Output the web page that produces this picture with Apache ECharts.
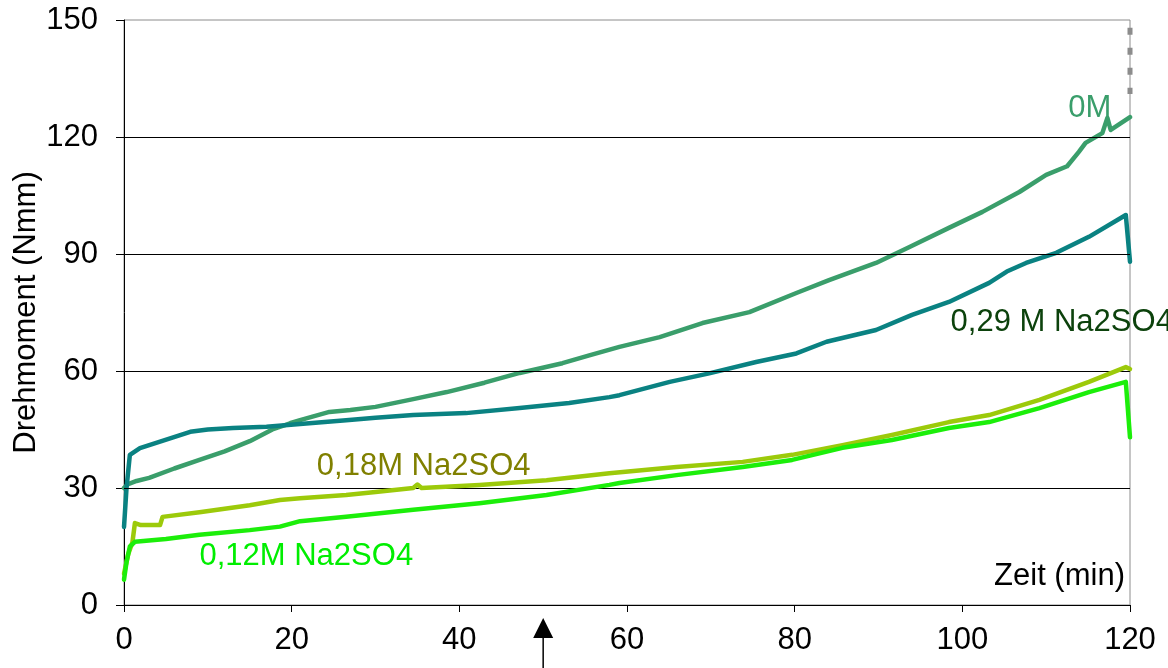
<!DOCTYPE html>
<html>
<head>
<meta charset="utf-8">
<title>Drehmoment</title>
<script src="https://cdn.jsdelivr.net/npm/echarts@6/dist/echarts.min.js"></script>
<style>
  html, body { margin: 0; padding: 0; background: #fff; }
  #chart { width: 1168px; height: 668px; }
</style>
</head>
<body>
<div id="chart"></div>
<script>
// Torque over time for different Na2SO4 concentrations
const xTicks = [0, 20, 40, 60, 80, 100, 120];
const yTicks = [0, 30, 60, 90, 120, 150];
const gridValues = [30, 60, 90, 120];

const t0M = [0, 0.5, 1.5, 3, 6, 9, 12, 15, 17.7, 19.8, 21, 24.5, 27, 30, 34.5, 38.5, 43, 47.2, 52.3, 55.5, 59.1, 63.9, 69, 74.6, 80.2, 84.1, 89.7, 93.7, 98.4, 102.4, 106.8, 110, 112.5, 113.9, 114.7, 116.7, 117.3, 117.7, 120];
const v0M = [30, 31, 31.8, 32.6, 35, 37.2, 39.4, 42, 45, 46.6, 47.4, 49.5, 50, 50.8, 52.8, 54.6, 57, 59.5, 62, 64, 66.2, 68.7, 72.3, 75.1, 80, 83.3, 87.7, 91.8, 96.7, 100.8, 105.9, 110.3, 112.5, 116.2, 118.5, 121, 124.9, 121.8, 125.1];

const t029 = [0, 0.3, 0.7, 1.9, 4.3, 7.9, 10, 13, 17, 21, 26.5, 30, 34.5, 40.8, 47.2, 53.1, 57.9, 59.1, 65.1, 69.8, 75.4, 80.2, 83.8, 89.7, 94, 98.4, 103.2, 105.3, 107.6, 111.2, 115.1, 119.5, 120];
const v029 = [20, 30, 38.5, 40.2, 41.9, 44.4, 45, 45.4, 45.7, 46.4, 47.4, 48, 48.7, 49.2, 50.5, 51.8, 53.3, 53.8, 57.2, 59.4, 62.3, 64.5, 67.5, 70.5, 74.4, 77.7, 82.6, 85.5, 87.7, 90.3, 94.4, 100, 88];

const t018 = [0, 0.5, 1, 1.3, 2, 4.3, 4.6, 9, 15, 18.6, 21, 26.5, 30, 34.5, 35, 35.5, 42.4, 50.4, 57.9, 65.9, 73.8, 79.7, 85.7, 91.6, 98.4, 103.2, 109.2, 115.1, 119.5, 120];
const v018 = [8, 13, 16, 21, 20.5, 20.5, 22.6, 23.8, 25.6, 26.9, 27.4, 28.2, 29, 30, 30.9, 30, 30.8, 32, 33.8, 35.4, 36.7, 38.5, 41, 43.6, 46.9, 48.7, 52.6, 57.2, 61, 60.5];

const t012 = [0, 0.3, 0.7, 1.3, 5, 9, 15, 18.6, 21, 26.5, 34.5, 42.4, 50.4, 57.9, 59.1, 65.9, 73.8, 79.7, 85.7, 91.6, 98.4, 103.2, 109.2, 115.1, 119.5, 120];
const v012 = [6.5, 11, 15, 16.2, 16.9, 18, 19.2, 20.1, 21.5, 22.6, 24.4, 26.1, 28.2, 30.8, 31.3, 33.3, 35.4, 37.2, 40.3, 42.3, 45.4, 46.9, 50.5, 54.6, 57.2, 43];

// dashed continuation above the 0M curve at the end of the run
const tDash = [120, 120];
const vDash = [148, 131];

const seriesNames = ['0M', '0,29 M Na2SO4', '0,18M Na2SO4', '0,12M Na2SO4'];
const lineColors = ['#3a9e6b', '#0a8282', '#9cca0a', '#1cee0a'];
const labelColors = ['#3a9e6b', '#0c420c', '#808000', '#00ee00'];
const arrowTime = 50;

const FONT = '"Liberation Sans", Arial, sans-serif';
const FS = 31;

function pairs(ts, vs) { return ts.map((t, i) => [t, vs[i]]); }

const chart = echarts.init(document.getElementById('chart'), null, { renderer: 'canvas' });

const lineSeries = [[t0M, v0M], [t029, v029], [t018, v018], [t012, v012]].map((d, i) => ({
  name: seriesNames[i],
  type: 'line',
  data: pairs(d[0], d[1]),
  showSymbol: false,
  symbol: 'none',
  animation: false,
  clip: false,
  z: 3 + i,
  lineStyle: { color: lineColors[i], width: 4.5, join: 'round', cap: 'round' }
}));

chart.setOption({
  backgroundColor: '#ffffff',
  animation: false,
  grid: {
    left: 124, right: 38, top: 20, bottom: 63, containLabel: false, outerBoundsMode: 'none',
    show: true, borderColor: '#8c8c8c', borderWidth: 1, backgroundColor: 'transparent'
  },
  xAxis: {
    type: 'value', min: xTicks[0], max: xTicks[xTicks.length - 1], interval: 20,
    axisLine: { show: true, onZero: false, lineStyle: { color: '#000', width: 1 } },
    axisTick: { show: true, inside: false, length: 7, lineStyle: { color: '#000' } },
    axisLabel: { color: '#000', fontSize: FS, fontFamily: FONT, margin: 20 },
    splitLine: { show: false }
  },
  yAxis: {
    type: 'value', min: yTicks[0], max: yTicks[yTicks.length - 1], interval: 30,
    name: 'Drehmoment (Nmm)', nameLocation: 'middle', nameGap: 82, nameMoveOverlap: false,
    nameTextStyle: { color: '#000', fontSize: FS, fontFamily: FONT },
    axisLine: { show: true, lineStyle: { color: '#000', width: 1 } },
    axisTick: { show: true, inside: false, length: 8, lineStyle: { color: '#000' } },
    axisLabel: { color: '#000', fontSize: FS, fontFamily: FONT, margin: 26 },
    splitLine: { show: false }
  },
  series: [
    {
      type: 'line', data: [], z: 1, silent: true,
      markLine: {
        silent: true, symbol: 'none', animation: false, label: { show: false },
        lineStyle: { color: '#000', width: 1, type: 'solid' },
        data: gridValues.map(v => ({ yAxis: v }))
      }
    },
    ...lineSeries,
    {
      type: 'line', data: pairs(tDash, vDash), showSymbol: false, symbol: 'none', clip: false, z: 8,
      lineStyle: { color: '#8c8c8c', width: 5, type: [7, 13], cap: 'butt' }
    }
  ]
});

// Series labels, anchored in data coordinates
const labelAnchors = [
  { i: 0, t: 115.2, v: 127.4, align: 'center' },
  { i: 1, t: 98.6, v: 72.5, align: 'left' },
  { i: 2, t: 23.0, v: 35.6, align: 'left' },
  { i: 3, t: 9.0, v: 12.5, align: 'left' }
];

const graphics = labelAnchors.map(a => {
  const p = chart.convertToPixel({ gridIndex: 0 }, [a.t, a.v]);
  return {
    type: 'text', x: p[0], y: p[1], z: 20,
    style: { text: seriesNames[a.i], fill: labelColors[a.i], fontSize: FS, fontFamily: FONT, align: a.align, verticalAlign: 'middle' }
  };
});

// Axis caption inside the plot area
const capPos = chart.convertToPixel({ gridIndex: 0 }, [119.4, 7.3]);
graphics.push({
  type: 'text', x: capPos[0], y: capPos[1], z: 20,
  style: { text: 'Zeit (min)', fill: '#000', fontSize: FS, fontFamily: FONT, align: 'right', verticalAlign: 'middle' }
});

// Arrow marking t = 50 min below the time axis
const ax = chart.convertToPixel({ gridIndex: 0 }, [arrowTime, 0]);
graphics.push({
  type: 'line', z: 20,
  shape: { x1: ax[0], y1: ax[1] + 30, x2: ax[0], y2: 668 },
  style: { stroke: '#000', lineWidth: 1.5 }
});
graphics.push({
  type: 'polygon', z: 20,
  shape: { points: [[ax[0], ax[1] + 13], [ax[0] - 10, ax[1] + 33], [ax[0] + 10, ax[1] + 33]] },
  style: { fill: '#000' }
});

chart.setOption({ graphic: graphics });
</script>
</body>
</html>
